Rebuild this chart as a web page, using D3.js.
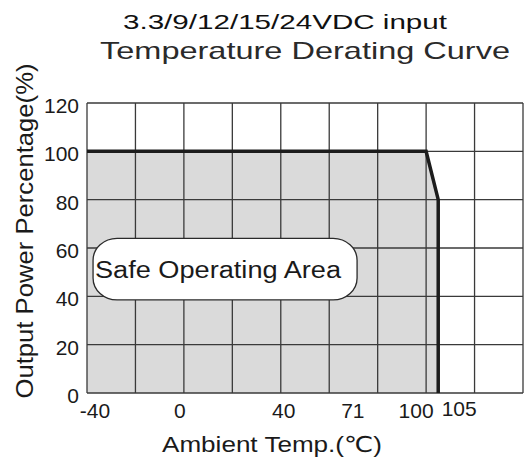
<!DOCTYPE html>
<html>
<head>
<meta charset="utf-8">
<script src="https://cdn.jsdelivr.net/npm/d3@7"></script>
<style>
  html, body { margin: 0; padding: 0; background: #fff; }
  svg { display: block; font-family: "Liberation Sans", "DejaVu Sans", Arial, sans-serif; }
</style>
</head>
<body>
<svg id="chart"></svg>
<script>
// derating curve: ambient temp (C) -> output power (%)
const curveTemps = [-40, 100, 105, 105];
const curvePower = [100, 100, 80, 0];

const xTickValues = [-40, 0, 40, 71, 100, 105];
const yTickValues = [0, 20, 40, 60, 80, 100, 120];

const titleLine1 = "3.3/9/12/15/24VDC input";
const titleLine2 = "Temperature Derating Curve";
const xLabel = "Ambient Temp.(\u2103)";
const yLabel = "Output Power Percentage(%)";
const areaLabel = "Safe Operating Area";

const config = {
  width: 524,
  height: 459,
  margin: { top: 103, right: 1, bottom: 66, left: 87 },
};

const svg = d3.select("#chart")
  .attr("width", config.width)
  .attr("height", config.height);

const innerW = config.width - config.margin.left - config.margin.right;
const innerH = config.height - config.margin.top - config.margin.bottom;

const x = d3.scaleLinear().domain([-40, 140]).range([0, innerW]);
const y = d3.scaleLinear().domain([0, 120]).range([innerH, 0]);

const chart = svg.append("g")
  .attr("transform", `translate(${config.margin.left},${config.margin.top})`);

const curve = curveTemps.map((t, i) => ({ t, p: curvePower[i] }));

// shaded safe area under the curve
const area = d3.area()
  .x(d => x(d.t))
  .y0(y(0))
  .y1(d => y(d.p));

chart.append("path")
  .datum(curve)
  .attr("d", area)
  .attr("fill", "#dadada");

// grid
const gridX = d3.range(-40, 141, 20);
const gridY = d3.range(0, 121, 20);

chart.selectAll(".grid-v")
  .data(gridX)
  .join("line")
  .attr("class", "grid-v")
  .attr("x1", d => x(d)).attr("x2", d => x(d))
  .attr("y1", 0).attr("y2", innerH)
  .attr("stroke", "#3a3a3a")
  .attr("stroke-width", 1.3);

chart.selectAll(".grid-h")
  .data(gridY)
  .join("line")
  .attr("class", "grid-h")
  .attr("x1", 0).attr("x2", innerW)
  .attr("y1", d => y(d)).attr("y2", d => y(d))
  .attr("stroke", "#3a3a3a")
  .attr("stroke-width", 1.3);

// "Safe Operating Area" capsule, placed in data units
const capsule = { t0: -37.5, t1: 71.5, p0: 38.5, p1: 64 };
chart.append("rect")
  .attr("x", x(capsule.t0))
  .attr("y", y(capsule.p1))
  .attr("width", x(capsule.t1) - x(capsule.t0))
  .attr("height", y(capsule.p0) - y(capsule.p1))
  .attr("rx", 24)
  .attr("ry", 22)
  .attr("fill", "#fff")
  .attr("stroke", "#2a2a2a")
  .attr("stroke-width", 1.3);

chart.append("text")
  .attr("x", x(-36.7))
  .attr("y", y(47.5))
  .attr("font-size", 23)
  .attr("fill", "#1a1a1a")
  .attr("textLength", 246)
  .attr("lengthAdjust", "spacingAndGlyphs")
  .text(areaLabel);

// derating line
const line = d3.line()
  .x(d => x(d.t))
  .y(d => y(d.p));

chart.append("path")
  .datum(curve)
  .attr("d", line)
  .attr("fill", "none")
  .attr("stroke", "#1c1c1c")
  .attr("stroke-width", 3.5)
  .attr("stroke-linejoin", "miter");

// y tick labels
chart.selectAll(".ytick")
  .data(yTickValues)
  .join("text")
  .attr("class", "ytick")
  .attr("x", -8)
  .attr("y", d => y(d) + 10)
  .attr("text-anchor", "end")
  .attr("font-size", 21)
  .attr("fill", "#1a1a1a")
  .text(d => d);

// x tick labels (100 / 105 are nudged apart like the original sheet)
const xTickNudge = { "-40": 8, "0": -4, "40": 3, "71": -3, "100": -10, "105": 21 };
chart.selectAll(".xtick")
  .data(xTickValues)
  .join("text")
  .attr("class", "xtick")
  .attr("x", d => x(d) + xTickNudge[d])
  .attr("y", d => innerH + (d === 105 ? 23 : 25))
  .attr("text-anchor", "middle")
  .attr("font-size", 21)
  .attr("fill", "#1a1a1a")
  .text(d => d);

// titles
svg.append("text")
  .attr("x", 285)
  .attr("y", 29)
  .attr("text-anchor", "middle")
  .attr("font-size", 21)
  .attr("fill", "#111")
  .attr("textLength", 324)
  .attr("lengthAdjust", "spacingAndGlyphs")
  .text(titleLine1);

svg.append("text")
  .attr("x", 305)
  .attr("y", 59)
  .attr("text-anchor", "middle")
  .attr("font-size", 24)
  .attr("fill", "#2a2a2a")
  .attr("textLength", 410)
  .attr("lengthAdjust", "spacingAndGlyphs")
  .text(titleLine2);

// axis titles
svg.append("text")
  .attr("x", 272)
  .attr("y", 452)
  .attr("text-anchor", "middle")
  .attr("font-size", 22)
  .attr("fill", "#1a1a1a")
  .attr("textLength", 220)
  .attr("lengthAdjust", "spacingAndGlyphs")
  .text(xLabel);

svg.append("text")
  .attr("transform", "translate(33,231) rotate(-90)")
  .attr("text-anchor", "middle")
  .attr("font-size", 24)
  .attr("fill", "#1a1a1a")
  .attr("textLength", 335)
  .attr("lengthAdjust", "spacingAndGlyphs")
  .text(yLabel);
</script>
</body>
</html>
